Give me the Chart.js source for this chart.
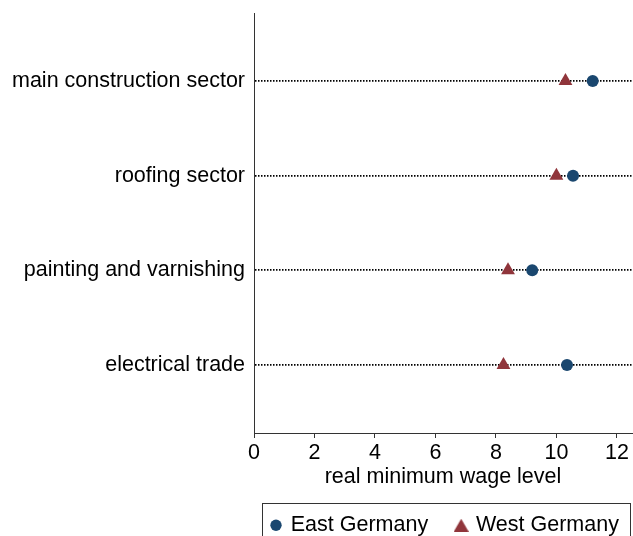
<!DOCTYPE html>
<html>
<head>
<meta charset="utf-8">
<script src="https://cdn.jsdelivr.net/npm/chart.js@4"></script>
<style>
  html, body { margin: 0; padding: 0; background: #fff; }
  canvas { display: block; }
</style>
</head>
<body>
<canvas id="myChart" width="633" height="536"></canvas>
<script>
// valores
const sectors = ["main construction sector", "roofing sector", "painting and varnishing", "electrical trade"];
const eastWage = [11.2, 10.55, 9.2, 10.35];
const westWage = [10.3, 10.0, 8.4, 8.25];
const xTicks = [0, 2, 4, 6, 8, 10, 12];

const navy = "#1a476f";
const maroon = "#90353b";

Chart.defaults.font.family = "'Liberation Sans', Arial, sans-serif";
Chart.defaults.font.size = 21.5;
Chart.defaults.color = "#000";

// triángulo más grande solo para la leyenda
const legendTriangle = document.createElement("canvas");
legendTriangle.width = 15;
legendTriangle.height = 13;
(function () {
    const c = legendTriangle.getContext("2d");
    c.fillStyle = maroon;
    c.beginPath();
    c.moveTo(7.5, 0);
    c.lineTo(15, 13);
    c.lineTo(0, 13);
    c.closePath();
    c.fill();
})();

// marco de la leyenda (estilo Stata)
const legendFrame = {
    id: "legendFrame",
    afterLayout(chart) {
        chart.legend.left = 243;
        chart.legend.right = 760;
    },
    afterDraw(chart) {
        const ctx = chart.ctx;
        ctx.save();
        ctx.strokeStyle = "#333";
        ctx.lineWidth = 1;
        ctx.strokeRect(262.5, 503.5, 368, 60);
        ctx.restore();
    }
};

const chart = new Chart(document.getElementById("myChart"), {
    type: "scatter",
    data: {
        datasets: [{
            label: "East Germany",
            data: eastWage.map((v, i) => ({ x: v, y: i + 1 })),
            pointStyle: "circle",
            pointRadius: 6,
            backgroundColor: navy,
            borderColor: navy,
            borderWidth: 0
        }, {
            label: "West Germany",
            data: westWage.map((v, i) => ({ x: v, y: i + 1 })),
            pointStyle: "triangle",
            pointRadius: 8,
            backgroundColor: maroon,
            borderColor: maroon,
            borderWidth: 0
        }]
    },
    options: {
        responsive: false,
        animation: false,
        layout: { autoPadding: false, padding: { top: 13, right: 1, left: 0, bottom: -10 } },
        plugins: {
            tooltip: { enabled: false },
            legend: {
                position: "bottom",
                align: "start",
                labels: {
                    usePointStyle: true,
                    boxHeight: 8,
                    boxWidth: 8,
                    padding: 29,
                    color: "#000",
                    generateLabels(chart) {
                        const items = Chart.defaults.plugins.legend.labels.generateLabels(chart);
                        items.forEach(it => {
                            if (it.pointStyle === "triangle") it.pointStyle = legendTriangle;
                        });
                        return items;
                    }
                }
            }
        },
        scales: {
            x: {
                type: "linear",
                min: 0,
                max: 12.5,
                afterFit(axis) {
                    axis.height = 52.5;
                    axis.paddingLeft = 0;
                    axis.paddingRight = 0;
                },
                afterBuildTicks(axis) { axis.ticks = xTicks.map(v => ({ value: v })); },
                ticks: { padding: 2, color: "#000", maxRotation: 0 },
                grid: { drawOnChartArea: false, drawTicks: true, tickLength: 5, tickColor: "#333", tickWidth: 1 },
                border: { display: true, color: "#333", width: 1 },
                title: {
                    display: true,
                    text: "real minimum wage level",
                    color: "#000",
                    font: { size: 21.5, lineHeight: 0.8 },
                    padding: { top: 0, bottom: 0 }
                }
            },
            y: {
                type: "linear",
                min: 0.28,
                max: 4.72,
                reverse: true,
                afterFit(axis) {
                    axis.width = 254;
                    axis.paddingTop = 0;
                    axis.paddingBottom = 0;
                },
                afterBuildTicks(axis) { axis.ticks = sectors.map((s, i) => ({ value: i + 1 })); },
                ticks: {
                    padding: 9,
                    color: "#000",
                    callback: v => sectors[v - 1]
                },
                grid: { color: "#000", lineWidth: 1.8, drawTicks: false },
                border: { display: true, color: "#333", width: 1, dash: [1.5, 1.5] }
            }
        }
    },
    plugins: [legendFrame]
});
</script>
</body>
</html>
